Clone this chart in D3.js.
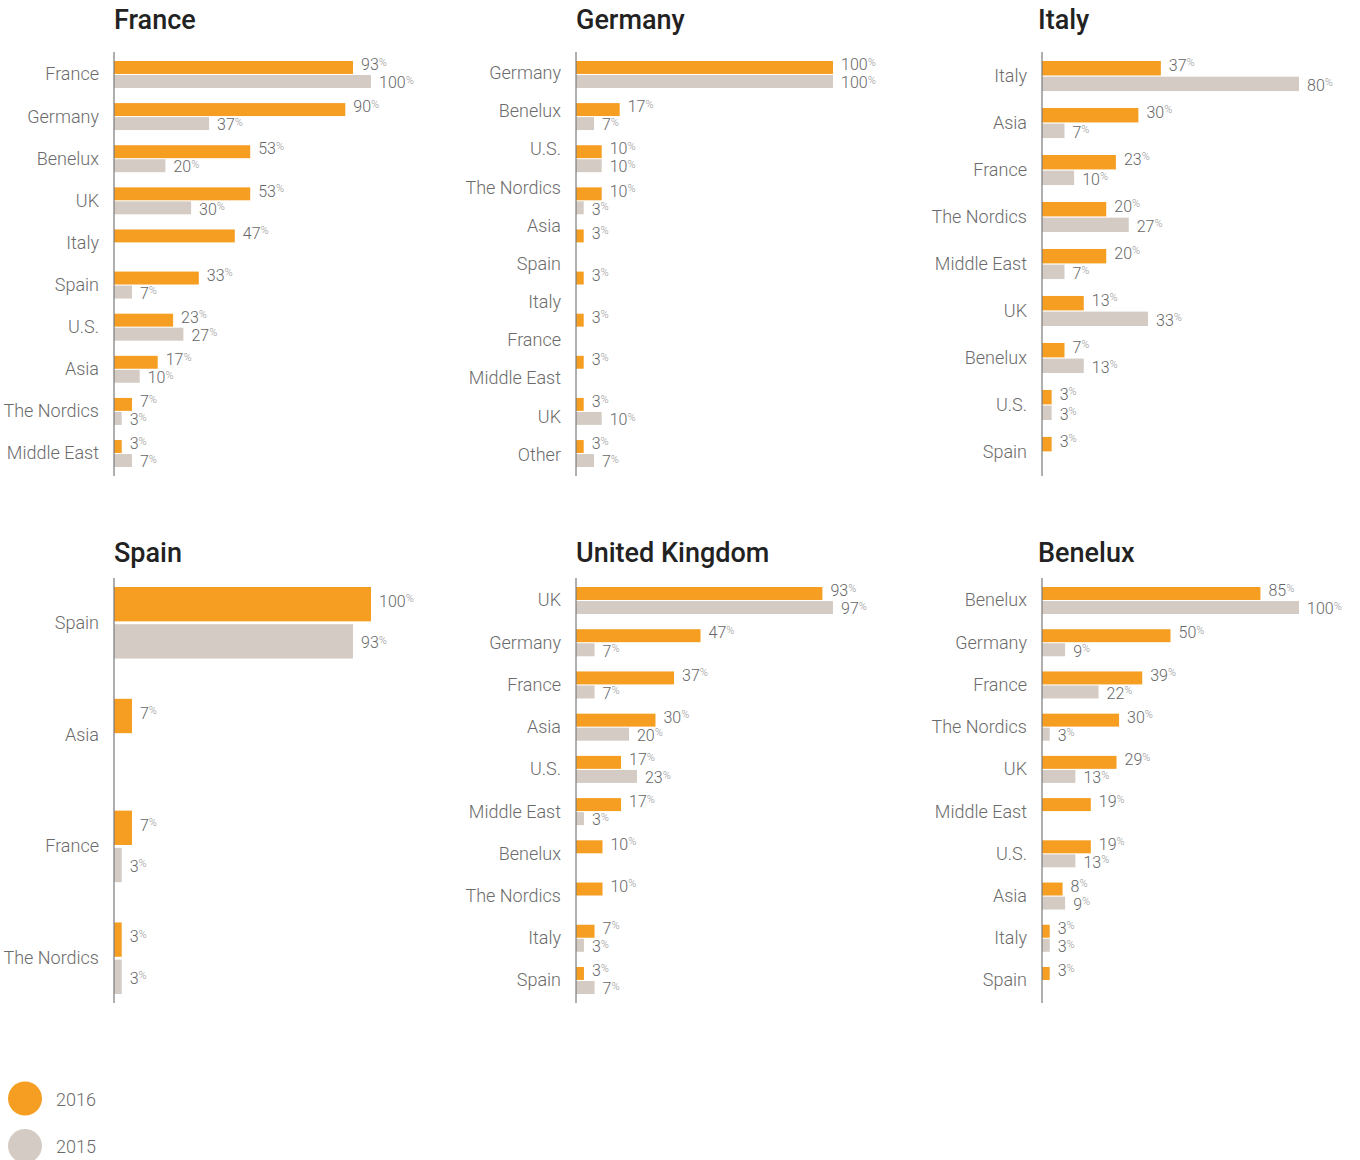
<!DOCTYPE html>
<meta charset="utf-8">
<style>
  body {
    margin: 0;
    background: #fff;
    font-family: "Helvetica Neue", Roboto, sans-serif;
  }
  .title {
    font-size: 27px;
    font-weight: 500;
    fill: #222;
  }
  .cat {
    font-size: 18px;
    font-weight: 300;
    fill: #6b6b6b;
    text-anchor: end;
  }
  .val {
    font-size: 16px;
    font-weight: 300;
    fill: #666;
  }
  .val .pct {
    font-size: 11px;
    fill: #9a9a9a;
  }
  .axis-line {
    stroke: #7a7a7a;
    stroke-width: 1.2px;
  }
  .legend text {
    font-size: 18px;
    font-weight: 300;
    fill: #6b6b6b;
  }
</style>
<body>
<div id="chart"></div>
<script src="https://d3js.org/d3.v7.min.js"></script>
<script>
// series
const seriesNames = ["2016", "2015"];
const seriesColors = ["#f59e22", "#d3cbc4"];

// panel titles
const panelTitles = ["France", "Germany", "Italy", "Spain", "United Kingdom", "Benelux"];

// France
const franceCats = ["France", "Germany", "Benelux", "UK", "Italy", "Spain", "U.S.", "Asia", "The Nordics", "Middle East"];
const france2016 = [93, 90, 53, 53, 47, 33, 23, 17, 7, 3];
const france2015 = [100, 37, 20, 30, null, 7, 27, 10, 3, 7];

// Germany
const germanyCats = ["Germany", "Benelux", "U.S.", "The Nordics", "Asia", "Spain", "Italy", "France", "Middle East", "UK", "Other"];
const germany2016 = [100, 17, 10, 10, 3, 3, 3, 3, null, 3, 3];
const germany2015 = [100, 7, 10, 3, null, null, null, null, null, 10, 7];

// Italy
const italyCats = ["Italy", "Asia", "France", "The Nordics", "Middle East", "UK", "Benelux", "U.S.", "Spain"];
const italy2016 = [37, 30, 23, 20, 20, 13, 7, 3, 3];
const italy2015 = [80, 7, 10, 27, 7, 33, 13, 3, null];

// Spain
const spainCats = ["Spain", "Asia", "France", "The Nordics"];
const spain2016 = [100, 7, 7, 3];
const spain2015 = [93, null, 3, 3];

// United Kingdom
const ukCats = ["UK", "Germany", "France", "Asia", "U.S.", "Middle East", "Benelux", "The Nordics", "Italy", "Spain"];
const uk2016 = [93, 47, 37, 30, 17, 17, 10, 10, 7, 3];
const uk2015 = [97, 7, 7, 20, 23, 3, null, null, 3, 7];

// Benelux
const beneluxCats = ["Benelux", "Germany", "France", "The Nordics", "UK", "Middle East", "U.S.", "Asia", "Italy", "Spain"];
const benelux2016 = [85, 50, 39, 30, 29, 19, 19, 8, 3, 3];
const benelux2015 = [100, 9, 22, 3, 13, null, 13, 9, 3, null];

const panelCats = [franceCats, germanyCats, italyCats, spainCats, ukCats, beneluxCats];
const panel2016 = [france2016, germany2016, italy2016, spain2016, uk2016, benelux2016];
const panel2015 = [france2015, germany2015, italy2015, spain2015, uk2015, benelux2015];

// layout
const W = 1360, H = 1160;
const colX = [114, 576, 1042];
const titleShift = [0, 0, -4];
const rowAxis = [[52, 476], [578, 1003]];
const titleBase = [29, 562];
const barWidthMax = 257;

const svg = d3.select("#chart").append("svg")
  .attr("width", W)
  .attr("height", H);

panelTitles.forEach(function(title, p) {
  var col = p % 3, row = Math.floor(p / 3);
  var x0 = colX[col];
  var top = rowAxis[row][0], bottom = rowAxis[row][1];

  var rows = panelCats[p].map(function(c, i) {
    return { cat: c, v16: panel2016[p][i], v15: panel2015[p][i] };
  });
  // rows with any bar take a bar slot
  var barRows = rows.filter(function(d) { return d.v16 != null || d.v15 != null; });

  var g = svg.append("g").attr("transform", "translate(" + x0 + ",0)");

  g.append("text")
    .attr("class", "title")
    .attr("x", titleShift[col])
    .attr("y", titleBase[row])
    .text(title);

  var maxV = d3.max(rows, function(d) { return Math.max(d.v16 || 0, d.v15 || 0); });
  var x = d3.scaleLinear().domain([0, maxV]).range([0, barWidthMax]);

  var yLab = d3.scaleBand()
    .domain(rows.map(function(d) { return d.cat; }))
    .range([top + 9, bottom - 9])
    .paddingInner(0.36);

  var yBar = d3.scaleBand()
    .domain(barRows.map(function(d) { return d.cat; }))
    .range([top + 9, bottom - 9])
    .paddingInner(0.36);

  var bw = yBar.bandwidth();
  var gap = bw * 0.04;
  var bh = bw / 2 - gap / 2;

  // category labels
  g.selectAll("text.cat")
    .data(rows)
    .enter().append("text")
    .attr("class", "cat")
    .attr("x", -15)
    .attr("y", function(d) { return yLab(d.cat) + yLab.bandwidth() / 2; })
    .attr("dy", "0.33em")
    .text(function(d) { return d.cat; });

  var series = [
    { key: "v16", color: seriesColors[0], off: 0, lab: 2.75 },
    { key: "v15", color: seriesColors[1], off: bh + gap, lab: 6.75 }
  ];

  series.forEach(function(s) {
    var data = barRows.filter(function(d) { return d[s.key] != null; });

    g.selectAll("rect." + s.key)
      .data(data)
      .enter().append("rect")
      .attr("class", s.key)
      .attr("x", 0)
      .attr("y", function(d) { return yBar(d.cat) + s.off; })
      .attr("width", function(d) { return x(d[s.key]); })
      .attr("height", bh)
      .attr("fill", s.color);

    var t = g.selectAll("text.val-" + s.key)
      .data(data)
      .enter().append("text")
      .attr("class", "val val-" + s.key)
      .attr("x", function(d) { return x(d[s.key]) + 8; })
      .attr("y", function(d) { return yBar(d.cat) + s.off + bh / 2 + s.lab; });
    t.append("tspan").text(function(d) { return d[s.key]; });
    t.append("tspan").attr("class", "pct").attr("dy", -4.5).text("%");
  });

  g.append("line")
    .attr("class", "axis-line")
    .attr("x1", 0).attr("x2", 0)
    .attr("y1", top).attr("y2", bottom);
});

// legend
var legend = svg.append("g").attr("class", "legend");
seriesNames.forEach(function(name, i) {
  var cy = 1098.5 + i * 47.5;
  legend.append("circle")
    .attr("cx", 25).attr("cy", cy).attr("r", 17)
    .attr("fill", seriesColors[i]);
  legend.append("text")
    .attr("x", 56).attr("y", cy + 7)
    .text(name);
});
</script>
</body>
